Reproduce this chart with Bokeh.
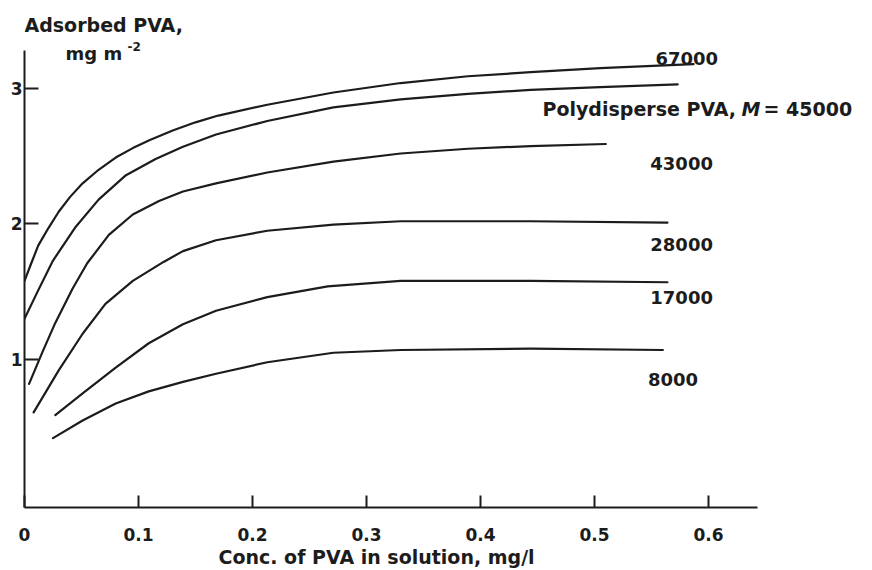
from bokeh.plotting import figure
from bokeh.models import Label, FixedTicker, Range1d, Title
from bokeh.embed import file_html
from bokeh.resources import INLINE

# ---- data (conc. mg/l, adsorbed mg m^-2) ----
conc_67000 = [0.000, 0.005, 0.012, 0.021, 0.030, 0.040, 0.051, 0.065, 0.080, 0.095, 0.110, 0.130, 0.150, 0.170, 0.213, 0.271, 0.330, 0.389, 0.444, 0.505, 0.587]
ads_67000 = [1.58, 1.69, 1.84, 1.97, 2.09, 2.20, 2.30, 2.40, 2.49, 2.56, 2.62, 2.69, 2.75, 2.80, 2.88, 2.97, 3.04, 3.09, 3.12, 3.15, 3.18]

conc_45000 = [0.000, 0.012, 0.025, 0.045, 0.065, 0.089, 0.115, 0.139, 0.168, 0.213, 0.271, 0.330, 0.389, 0.444, 0.505, 0.573]
ads_45000 = [1.30, 1.51, 1.73, 1.98, 2.18, 2.36, 2.48, 2.57, 2.66, 2.76, 2.86, 2.92, 2.96, 2.99, 3.01, 3.03]

conc_43000 = [0.004, 0.016, 0.027, 0.042, 0.055, 0.074, 0.095, 0.118, 0.139, 0.168, 0.213, 0.271, 0.330, 0.389, 0.444, 0.510]
ads_43000 = [0.82, 1.06, 1.27, 1.52, 1.71, 1.92, 2.07, 2.17, 2.24, 2.30, 2.38, 2.46, 2.52, 2.555, 2.575, 2.59]

conc_28000 = [0.008, 0.030, 0.051, 0.071, 0.095, 0.122, 0.139, 0.168, 0.213, 0.271, 0.330, 0.389, 0.444, 0.564]
ads_28000 = [0.61, 0.92, 1.19, 1.41, 1.58, 1.72, 1.80, 1.88, 1.95, 1.995, 2.02, 2.02, 2.02, 2.01]

conc_17000 = [0.027, 0.051, 0.080, 0.109, 0.139, 0.168, 0.213, 0.266, 0.330, 0.444, 0.564]
ads_17000 = [0.59, 0.75, 0.94, 1.12, 1.26, 1.36, 1.46, 1.54, 1.58, 1.58, 1.57]

conc_8000 = [0.025, 0.051, 0.080, 0.109, 0.139, 0.168, 0.213, 0.271, 0.330, 0.444, 0.560]
ads_8000 = [0.42, 0.55, 0.675, 0.765, 0.835, 0.895, 0.98, 1.05, 1.07, 1.08, 1.07]

x_ticks = [0, 0.1, 0.2, 0.3, 0.4, 0.5, 0.6]
x_tick_labels = ["0", "0.1", "0.2", "0.3", "0.4", "0.5", "0.6"]
y_ticks = [1, 2, 3]
y_tick_labels = ["1", "2", "3"]

curve_names = ["67000", "45000", "43000", "28000", "17000", "8000"]
label_x = [0.5535, 0.4544, 0.549, 0.549, 0.549, 0.547]
label_y = [3.221, 2.852, 2.446, 1.849, 1.458, 0.852]

x_title = "Conc. of PVA in solution, mg/l"
y_title_1 = "Adsorbed PVA,"
y_title_2 = "mg m"
y_title_sup = "-2"

FONT = "DejaVu Sans"
INK = "#1c1c1c"

p = figure(width=872, height=570,
           x_range=Range1d(0, 0.7439), y_range=Range1d(-0.092, 3.649),
           output_backend="svg", toolbar_location=None,
           min_border_left=24, min_border_right=0,
           min_border_top=0, min_border_bottom=63)

p.grid.visible = False
p.outline_line_color = None
p.background_fill_color = "white"
p.border_fill_color = "white"

# x axis
xa = p.xaxis[0]
xa.ticker = FixedTicker(ticks=x_ticks)
xa.bounds = (0, 0.643)
xa.major_label_overrides = {t: s for t, s in zip(x_ticks, x_tick_labels)}
xa.major_tick_in = 12
xa.major_tick_out = 0
xa.minor_tick_in = 0
xa.minor_tick_out = 0
xa.axis_line_width = 2
xa.axis_line_color = INK
xa.major_tick_line_width = 2
xa.major_tick_line_color = INK
xa.major_label_standoff = 20
xa.major_label_text_font = FONT
xa.major_label_text_font_style = "bold"
xa.major_label_text_font_size = "17px"
xa.major_label_text_color = INK

# x axis title, left-aligned under the axis
p.add_layout(Title(text=x_title, align="left", offset=194, standoff=0,
                   text_font=FONT, text_font_style="bold", text_font_size="19px",
                   text_color=INK), "below")

# y axis
ya = p.yaxis[0]
ya.ticker = FixedTicker(ticks=y_ticks)
ya.bounds = (-0.092, 3.28)
ya.major_label_overrides = {t: s for t, s in zip(y_ticks, y_tick_labels)}
ya.major_tick_in = 14
ya.major_tick_out = 0
ya.minor_tick_in = 0
ya.minor_tick_out = 0
ya.axis_line_width = 2
ya.axis_line_color = INK
ya.major_tick_line_width = 2
ya.major_tick_line_color = INK
ya.major_label_standoff = 2
ya.major_label_text_font = FONT
ya.major_label_text_font_style = "bold"
ya.major_label_text_font_size = "17px"
ya.major_label_text_color = INK

series = [(conc_67000, ads_67000), (conc_45000, ads_45000), (conc_43000, ads_43000),
          (conc_28000, ads_28000), (conc_17000, ads_17000), (conc_8000, ads_8000)]
for xs, ys in series:
    p.line(xs, ys, line_width=2.2, line_color=INK, line_join="round", line_cap="round")

def add_label(x, y, text, align="left", style="bold", size="18px", x_offset=0):
    p.add_layout(Label(x=x, y=y, text=text, text_align=align, text_baseline="middle",
                       text_font=FONT, text_font_style=style, text_font_size=size,
                       text_color=INK, x_offset=x_offset))

for i, name in enumerate(curve_names):
    if name == "45000":
        add_label(label_x[i], label_y[i], "Polydisperse PVA,", size="19px")
        add_label(label_x[i], label_y[i], "M", style="bold italic", size="19px", x_offset=199)
        add_label(label_x[i], label_y[i], "= " + name, size="19px", x_offset=221)
    else:
        add_label(label_x[i], label_y[i], name)

# y axis title (two lines, above the axis)
add_label(0.000, 3.465, y_title_1, size="19px")
add_label(0.036, 3.258, y_title_2)
add_label(0.0904, 3.31, y_title_sup, size="12px")

open("out.html", "w").write(file_html(p, INLINE))
